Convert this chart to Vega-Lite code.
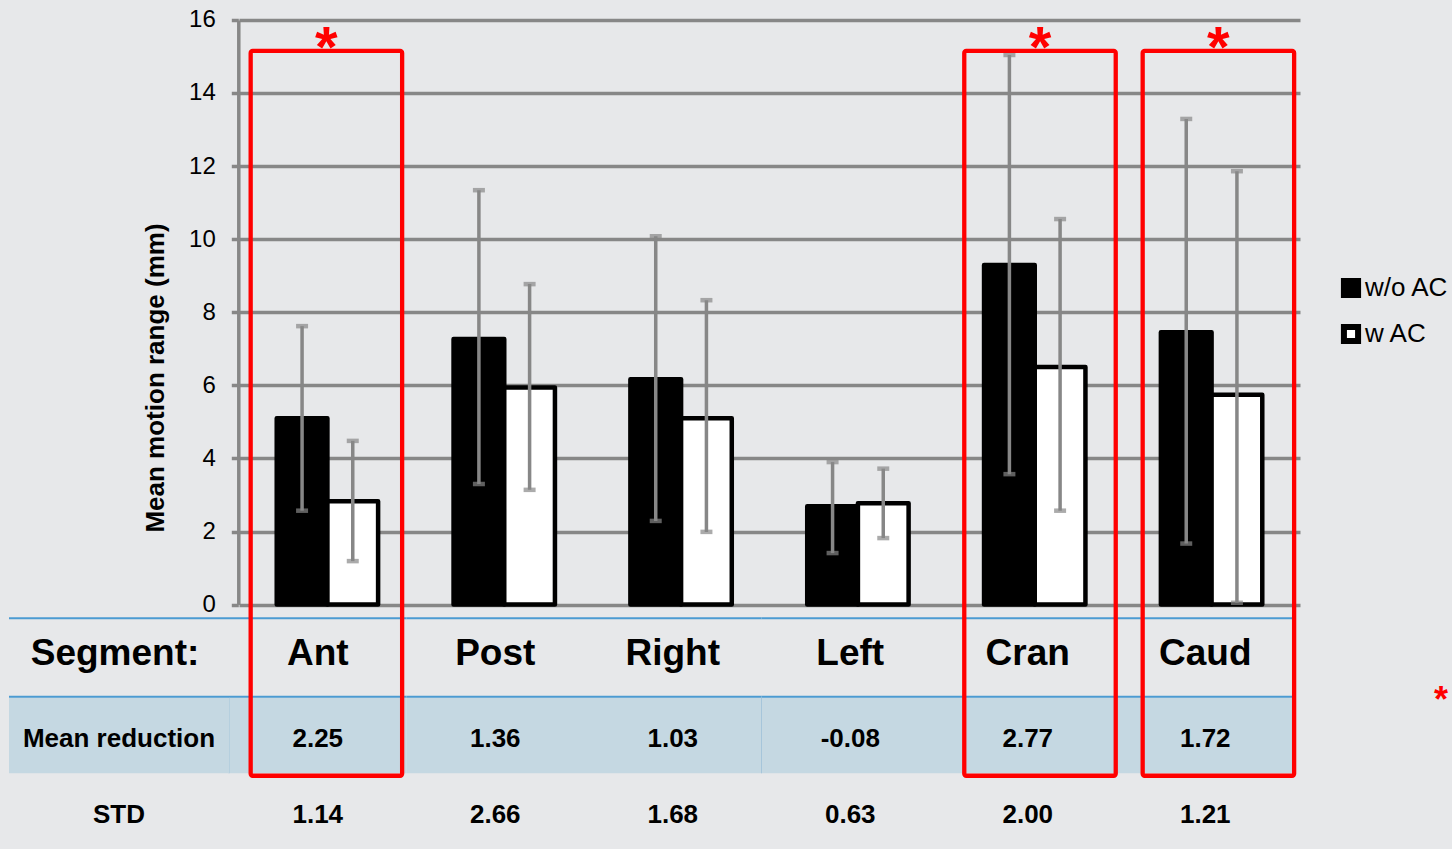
{
  "$schema": "https://vega.github.io/schema/vega-lite/v6.json",
  "width": 1452,
  "height": 849,
  "autosize": {"type": "none"},
  "padding": 0,
  "background": "#e7e8ea",
  "config": {"view": {"stroke": null}, "font": "Liberation Sans"},
  "datasets": {
    "bars": [
      {"seg": "Ant", "series": "w/o AC", "mean": 5.10, "lo": 2.57, "hi": 7.62},
      {"seg": "Ant", "series": "w AC", "mean": 2.83, "lo": 1.19, "hi": 4.48},
      {"seg": "Post", "series": "w/o AC", "mean": 7.27, "lo": 3.30, "hi": 11.34},
      {"seg": "Post", "series": "w AC", "mean": 5.94, "lo": 3.14, "hi": 8.77},
      {"seg": "Right", "series": "w/o AC", "mean": 6.17, "lo": 2.29, "hi": 10.08},
      {"seg": "Right", "series": "w AC", "mean": 5.10, "lo": 1.99, "hi": 8.33},
      {"seg": "Left", "series": "w/o AC", "mean": 2.69, "lo": 1.41, "hi": 3.90},
      {"seg": "Left", "series": "w AC", "mean": 2.77, "lo": 1.82, "hi": 3.72},
      {"seg": "Cran", "series": "w/o AC", "mean": 9.29, "lo": 3.57, "hi": 15.04},
      {"seg": "Cran", "series": "w AC", "mean": 6.50, "lo": 2.57, "hi": 10.55},
      {"seg": "Caud", "series": "w/o AC", "mean": 7.45, "lo": 1.67, "hi": 13.29},
      {"seg": "Caud", "series": "w AC", "mean": 5.74, "lo": 0.05, "hi": 11.86}
    ],
    "table": [
      {"seg": "Ant", "reduction": "2.25", "std": "1.14"},
      {"seg": "Post", "reduction": "1.36", "std": "2.66"},
      {"seg": "Right", "reduction": "1.03", "std": "1.68"},
      {"seg": "Left", "reduction": "-0.08", "std": "0.63"},
      {"seg": "Cran", "reduction": "2.77", "std": "2.00"},
      {"seg": "Caud", "reduction": "1.72", "std": "1.21"}
    ],
    "dividers": [{"seg": "Ant"}, {"seg": "Left"}],
    "labels": [{"col": "lbl", "segment": "Segment:", "reduction": "Mean reduction", "std": "STD"}],
    "note": [{"col": "note", "mark": "*"}],
    "stars": [{"seg": "Ant"}, {"seg": "Cran"}, {"seg": "Caud"}]
  },
  "resolve": {"scale": {"x": "independent"}, "axis": {"y": "independent"}},
  "layer": [
    {
      "data": {"name": "table"},
      "encoding": {
        "x": {"field": "seg", "type": "nominal", "scale": {"domain": ["Ant", "Post", "Right", "Left", "Cran", "Caud"], "range": [229, 1294], "paddingInner": 0, "paddingOuter": 0}, "axis": null}
      },
      "layer": [
        {"mark": {"type": "rect", "fill": "#c5d8e2"}, "encoding": {"y": {"datum": -2.547, "type": "quantitative", "scale": {"domain": [0, 16], "range": [604.6, 19.9], "nice": false, "zero": false}, "axis": null}, "y2": {"datum": -4.616}}},
        {"mark": {"type": "rect", "fill": "#4b9bd2"}, "encoding": {"y": {"datum": -0.3475, "type": "quantitative", "axis": null}, "y2": {"datum": -0.402}}},
        {"mark": {"type": "rect", "fill": "#4b9bd2"}, "encoding": {"y": {"datum": -2.4925, "type": "quantitative", "axis": null}, "y2": {"datum": -2.547}}},
        {"data": {"name": "dividers"}, "mark": {"type": "rule", "color": "#a6c5da", "strokeWidth": 1}, "encoding": {"x": {"field": "seg", "type": "nominal", "bandPosition": 0}, "y": {"datum": -2.547, "type": "quantitative", "axis": null}, "y2": {"datum": -4.616}}},
        {"mark": {"type": "text", "fontSize": 37, "fontWeight": "bold", "baseline": "alphabetic", "align": "center", "color": "#000000"}, "encoding": {"text": {"field": "seg"}, "y": {"datum": -1.653, "type": "quantitative", "axis": null}}},
        {"mark": {"type": "text", "fontSize": 26, "fontWeight": "bold", "baseline": "alphabetic", "align": "center", "color": "#000000"}, "encoding": {"text": {"field": "reduction"}, "y": {"datum": -3.888, "type": "quantitative", "axis": null}}},
        {"mark": {"type": "text", "fontSize": 26, "fontWeight": "bold", "baseline": "alphabetic", "align": "center", "color": "#000000"}, "encoding": {"text": {"field": "std"}, "y": {"datum": -5.984, "type": "quantitative", "axis": null}}}
      ]
    },
    {
      "data": {"name": "labels"},
      "encoding": {
        "x": {"field": "col", "type": "nominal", "scale": {"domain": ["lbl"], "range": [9, 229], "paddingInner": 0, "paddingOuter": 0}, "axis": null}
      },
      "layer": [
        {"mark": {"type": "rect", "fill": "#c5d8e2"}, "encoding": {"y": {"datum": -2.547, "type": "quantitative", "scale": {"domain": [0, 16], "range": [604.6, 19.9], "nice": false, "zero": false}, "axis": null}, "y2": {"datum": -4.616}}},
        {"mark": {"type": "rect", "fill": "#4b9bd2"}, "encoding": {"y": {"datum": -0.3475, "type": "quantitative", "axis": null}, "y2": {"datum": -0.402}}},
        {"mark": {"type": "rect", "fill": "#4b9bd2"}, "encoding": {"y": {"datum": -2.4925, "type": "quantitative", "axis": null}, "y2": {"datum": -2.547}}},
        {"mark": {"type": "text", "fontSize": 37, "fontWeight": "bold", "baseline": "alphabetic", "align": "center", "color": "#000000", "dx": -4}, "encoding": {"text": {"field": "segment"}, "y": {"datum": -1.653, "type": "quantitative", "axis": null}}},
        {"mark": {"type": "text", "fontSize": 26, "fontWeight": "bold", "baseline": "alphabetic", "align": "center", "color": "#000000"}, "encoding": {"text": {"field": "reduction"}, "y": {"datum": -3.888, "type": "quantitative", "axis": null}}},
        {"mark": {"type": "text", "fontSize": 26, "fontWeight": "bold", "baseline": "alphabetic", "align": "center", "color": "#000000"}, "encoding": {"text": {"field": "std"}, "y": {"datum": -5.984, "type": "quantitative", "axis": null}}}
      ]
    },
    {
      "data": {"name": "note"},
      "mark": {"type": "text", "fontSize": 36, "fontWeight": "bold", "baseline": "alphabetic", "align": "center", "color": "#ff0000"},
      "encoding": {
        "x": {"field": "col", "type": "nominal", "scale": {"domain": ["note"], "range": [1430, 1452], "paddingInner": 0, "paddingOuter": 0}, "axis": null},
        "y": {"datum": -2.94, "type": "quantitative", "scale": {"domain": [0, 16], "range": [604.6, 19.9], "nice": false, "zero": false}, "axis": null},
        "text": {"field": "mark"}
      }
    },
    {
      "data": {"name": "bars"},
      "encoding": {
        "x": {"field": "seg", "type": "nominal", "scale": {"domain": ["Ant", "Post", "Right", "Left", "Cran", "Caud"], "range": [239, 1300], "paddingInner": 0.14, "paddingOuter": 0.07}, "axis": null}
      },
      "layer": [
        {
          "mark": {"type": "bar", "stroke": "#000000", "strokeWidth": 4.5, "strokeJoin": "round"},
          "encoding": {
            "xOffset": {"field": "series", "type": "nominal", "scale": {"domain": ["w/o AC", "w AC"], "paddingInner": 0, "paddingOuter": 0.5}},
            "y": {
              "field": "mean", "type": "quantitative",
              "scale": {"domain": [0, 16], "range": [604.6, 19.9], "nice": false, "zero": false},
              "axis": {
                "offset": -238.3, "values": [0, 2, 4, 6, 8, 10, 12, 14, 16],
                "grid": true, "gridColor": "#878787", "gridWidth": 3.5,
                "domainColor": "#878787", "domainWidth": 3.5,
                "tickColor": "#878787", "tickWidth": 3.5, "tickSize": 7,
                "labelFontSize": 24, "labelColor": "#000000", "labelPadding": 16,
                "title": "Mean motion range (mm)", "titleFontSize": 26, "titleFontWeight": "bold", "titleColor": "#000000",
                "titleX": -75, "titleY": 377.5, "titleAngle": 270, "titleAlign": "center", "titleBaseline": "alphabetic"
              }
            },
            "color": {
              "field": "series", "type": "nominal",
              "scale": {"domain": ["w/o AC", "w AC"], "range": ["#000000", "#ffffff"]},
              "legend": {
                "title": null, "orient": "none", "legendX": 1338, "legendY": 275, "padding": 0,
                "symbolType": "square", "symbolSize": 200, "symbolStrokeWidth": 6, "symbolStrokeColor": "#000000",
                "labelFontSize": 26, "labelColor": "#000000", "labelOffset": 1, "rowPadding": 6
              }
            }
          }
        },
        {
          "mark": {"type": "rule", "color": "#878787", "strokeWidth": 3.5},
          "encoding": {
            "xOffset": {"field": "series", "type": "nominal"},
            "y": {"field": "lo", "type": "quantitative"},
            "y2": {"field": "hi"}
          }
        },
        {
          "mark": {"type": "tick", "color": "#878787", "size": 12, "thickness": 4.5, "orient": "horizontal"},
          "encoding": {
            "xOffset": {"field": "series", "type": "nominal"},
            "y": {"field": "hi", "type": "quantitative"}
          }
        },
        {
          "mark": {"type": "tick", "color": "#878787", "size": 12, "thickness": 4.5, "orient": "horizontal"},
          "encoding": {
            "xOffset": {"field": "series", "type": "nominal"},
            "y": {"field": "lo", "type": "quantitative"}
          }
        }
      ]
    },
    {
      "data": {"name": "stars"},
      "encoding": {
        "x": {"field": "seg", "type": "nominal", "scale": {"domain": ["Ant", "Post", "Right", "Left", "Cran", "Caud"], "range": [237.2, 1307.6], "paddingInner": 0.151, "paddingOuter": 0.0755}, "axis": null}
      },
      "layer": [
        {
          "mark": {"type": "rect", "fillOpacity": 0, "stroke": "#ff0000", "strokeWidth": 4.3, "cornerRadius": 2},
          "encoding": {
            "y": {"datum": 15.15, "type": "quantitative", "scale": {"domain": [0, 16], "range": [604.6, 19.9], "nice": false, "zero": false}, "axis": null},
            "y2": {"datum": -4.684}
          }
        },
        {
          "mark": {"type": "text", "text": "*", "fontSize": 58, "fontWeight": "bold", "color": "#ff0000", "baseline": "alphabetic", "align": "center"},
          "encoding": {
            "y": {"datum": 14.7, "type": "quantitative", "axis": null}
          }
        }
      ]
    }
  ]
}
